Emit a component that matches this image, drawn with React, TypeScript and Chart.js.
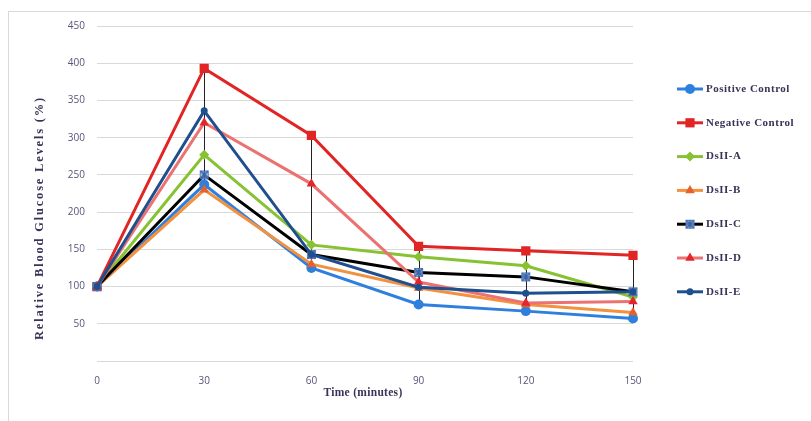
import React, { useEffect, useRef } from "react";
import { Chart, registerables } from "chart.js";
import { drawPoint } from "chart.js/helpers";

Chart.register(...registerables);

const times = [0, 30, 60, 90, 120, 150];
const seriesNames = [
  "Positive Control",
  "Negative Control",
  "DsII-A",
  "DsII-B",
  "DsII-C",
  "DsII-D",
  "DsII-E",
];
const positiveControl = [100, 237, 125, 76, 67, 57];
const negativeControl = [100, 393, 303, 154, 148, 142];
const dsIIA = [100, 277, 156, 140, 128, 86];
const dsIIB = [100, 230, 130, 98, 76, 65];
const dsIIC = [100, 250, 143, 119, 113, 93];
const dsIID = [100, 320, 238, 106, 78, 80];
const dsIIE = [100, 336, 143, 99, 91, 93];
const yMax = 450;
const yStep = 50;
const xTitle = "Time (minutes)";
const yTitle = "Relative Blood Glucose Levels (%)";

const lineColors = ["#2f7fdf", "#e12525", "#86c232", "#f2913f", "#000000", "#ec7272", "#1f4f8e"];
const markerColors = ["#2f7fdf", "#e12525", "#86c232", "#e5602a", "#4f7fc0", "#e4262c", "#1f4f8e"];

const TEXT = "#3a3358";
const TICK = "#55557a";

function makeBoxX(): HTMLCanvasElement {
  const c = document.createElement("canvas");
  c.width = 11;
  c.height = 11;
  const g = c.getContext("2d")!;
  g.fillStyle = "rgba(150,185,230,0.7)";
  g.fillRect(1, 1, 9, 9);
  g.strokeStyle = "rgba(70,110,180,0.8)";
  g.lineWidth = 1;
  g.strokeRect(1.5, 1.5, 8, 8);
  g.strokeStyle = "#3564ad";
  g.lineWidth = 1.6;
  g.beginPath();
  g.moveTo(1.5, 1.5);
  g.lineTo(9.5, 9.5);
  g.moveTo(9.5, 1.5);
  g.lineTo(1.5, 9.5);
  g.moveTo(5.5, 1);
  g.lineTo(5.5, 10);
  g.stroke();
  return c;
}

export default function App() {
  const ref = useRef<HTMLCanvasElement | null>(null);

  useEffect(() => {
    if (!ref.current) return;
    const boxX = makeBoxX();
    const values = [positiveControl, negativeControl, dsIIA, dsIIB, dsIIC, dsIID, dsIIE];
    const styles: any[] = ["circle", "rect", "rectRot", "triangle", boxX, "triangle", "circle"];
    const radii = [5, 6.5, 5, 5.5, 5.5, 5.5, 3.5];

    const datasets = values.map((v, i) => ({
      label: seriesNames[i],
      data: v,
      borderColor: lineColors[i],
      backgroundColor: markerColors[i],
      pointBackgroundColor: markerColors[i],
      pointBorderColor: markerColors[i],
      pointBorderWidth: 0,
      pointStyle: styles[i],
      pointRadius: radii[i],
      borderWidth: 3,
      tension: 0,
      order: values.length - i,
    }));

    const hiLo = {
      id: "hiLo",
      beforeDatasetsDraw(chart: any) {
        const ctx = chart.ctx;
        const xs = chart.scales.x;
        const ys = chart.scales.y;
        ctx.save();
        ctx.strokeStyle = "#222";
        ctx.lineWidth = 1;
        times.forEach((_, j) => {
          const col = values.map((v) => v[j]);
          const hi = Math.max(...col);
          const lo = Math.min(...col);
          if (hi === lo) return;
          const x = Math.round(xs.getPixelForValue(j)) + 0.5;
          ctx.beginPath();
          ctx.moveTo(x, ys.getPixelForValue(hi));
          ctx.lineTo(x, ys.getPixelForValue(lo));
          ctx.stroke();
        });
        ctx.restore();
      },
    };

    const deco = {
      id: "deco",
      afterDraw(chart: any) {
        const ctx = chart.ctx;
        const area = chart.chartArea;
        ctx.save();
        ctx.fillStyle = TEXT;
        ctx.font = "bold 11.5px 'Liberation Serif'";
        ctx.textAlign = "center";
        ctx.textBaseline = "middle";
        (ctx as any).letterSpacing = "0.3px";
        ctx.fillText(xTitle, (area.left + area.right) / 2 - 2, 393);
        ctx.save();
        ctx.translate(40, 218);
        ctx.rotate(-Math.PI / 2);
        ctx.font = "bold 12.5px 'Liberation Serif'";
        (ctx as any).letterSpacing = "1.8px";
        ctx.fillText(yTitle, 0, 0);
        ctx.restore();
        const lx0 = 677;
        const lx1 = 703;
        const rowY0 = 89;
        const rowGap = 33.8;
        chart.data.datasets.forEach((ds: any, i: number) => {
          const y = rowY0 + i * rowGap;
          ctx.strokeStyle = ds.borderColor;
          ctx.lineWidth = 3;
          ctx.beginPath();
          ctx.moveTo(lx0, y);
          ctx.lineTo(lx1, y);
          ctx.stroke();
          ctx.fillStyle = ds.pointBackgroundColor;
          ctx.strokeStyle = ds.pointBorderColor;
          drawPoint(ctx, { pointStyle: ds.pointStyle, radius: ds.pointRadius, rotation: 0, borderWidth: 0 } as any, (lx0 + lx1) / 2, y);
          ctx.fillStyle = TEXT;
          ctx.font = "bold 11px 'Liberation Serif'";
          ctx.textAlign = "left";
          ctx.textBaseline = "middle";
          (ctx as any).letterSpacing = "0.5px";
          ctx.fillText(ds.label, lx1 + 3, y);
        });
        ctx.restore();
      },
    };

    const chart = new Chart(ref.current, {
      type: "line",
      data: { labels: times.map(String), datasets },
      options: {
        animation: false,
        responsive: false,
        devicePixelRatio: 1,
        layout: { padding: { left: 0, top: 26, right: 178, bottom: 0 } },
        plugins: { legend: { display: false }, tooltip: { enabled: false } },
        scales: {
          x: {
            type: "category",
            offset: false,
            grid: { display: false },
            border: { display: false },
            ticks: { color: TICK, font: { family: "'Open Sans'", size: 10 }, padding: 6, maxRotation: 0 },
            afterFit: (s: any) => {
              s.height = 60;
            },
          },
          y: {
            min: 0,
            max: yMax,
            grid: { color: "#d9d9d9", lineWidth: 1, drawTicks: false },
            border: { display: false },
            ticks: {
              stepSize: yStep,
              color: TICK,
              font: { family: "'Open Sans'", size: 10 },
              padding: 12,
              callback: (v: any) => (v === 0 ? "" : String(v)),
            },
            afterFit: (s: any) => {
              s.width = 97;
            },
          },
        },
      },
      plugins: [hiLo, deco],
    });
    return () => chart.destroy();
  }, []);

  return (
    <div style={{ position: "fixed", left: 0, top: 0, width: 811, height: 421, background: "#fff", overflow: "hidden" }}>
      <div
        style={{
          position: "absolute",
          left: 8,
          top: 11,
          width: 900,
          height: 500,
          borderLeft: "1px solid #d9d9d9",
          borderTop: "1px solid #d9d9d9",
        }}
      />
      <canvas ref={ref} width={811} height={421} style={{ position: "absolute", left: 0, top: 0 }} />
    </div>
  );
}
